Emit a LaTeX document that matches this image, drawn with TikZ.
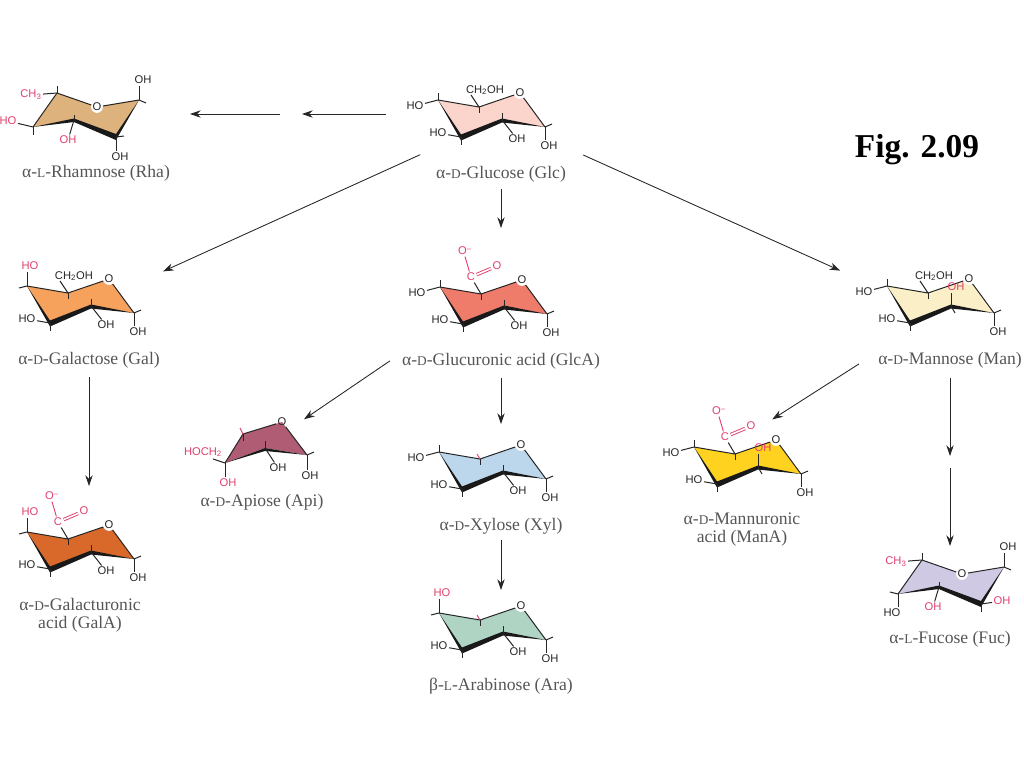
\documentclass[tikz,border=0pt]{standalone}
\usepackage{fontspec}
\setmainfont{Liberation Serif}
\setsansfont{Liberation Sans}
\usepackage{tikz}
\usetikzlibrary{arrows.meta,calc}
\definecolor{rhafill}{HTML}{DDB27C}
\definecolor{glcfill}{HTML}{FBD4CB}
\definecolor{glcafill}{HTML}{EF7B6A}
\definecolor{galfill}{HTML}{F6A25C}
\definecolor{galafill}{HTML}{D9692A}
\definecolor{manfill}{HTML}{FBEFC8}
\definecolor{manafill}{HTML}{FFD21F}
\definecolor{xylfill}{HTML}{BCD6EC}
\definecolor{arafill}{HTML}{B0D4C4}
\definecolor{fucfill}{HTML}{CFC9E4}
\definecolor{apifill}{HTML}{AF5C74}
\definecolor{sugarpink}{HTML}{E0406E}
\definecolor{capgray}{HTML}{555555}
\tikzset{
  subst/.style={font=\sffamily\fontsize{8.4}{9}\selectfont, inner sep=1pt, text=black!85},
  substred/.style={subst, text=sugarpink},
  ringox/.style={subst, circle, fill=white, inner sep=0pt},
  bondline/.style={line width=0.75pt, black!85},
  redbond/.style={line width=0.7pt, sugarpink},
  sugarcap/.style={font=\fontsize{13.2}{13.5}\selectfont, text=capgray,
    inner sep=0pt, align=center},
  hub/.style={inner sep=0pt, outer sep=0pt, minimum size=0pt},
  arr/.style={-{Stealth[length=8pt,width=5.5pt]}, line width=0.65pt, black!85},
}
\newcommand{\cfg}[1]{{\fontsize{10}{9}\selectfont #1}}
% chair ring, with the two groups every one of them carries
\newcommand{\chairring}[1]{
  \coordinate (a) at (0,0);
  \coordinate (b) at (23,37);
  \coordinate (c) at (64,20);
  \coordinate (d) at (107,27);
  \coordinate (e) at (41,7);
  \fill[#1] (a) -- (b) -- (c) -- (d) -- (82,-7) -- (e) -- cycle;
  \draw[bondline] (e) -- (a);
  \draw[bondline] (e) -- ++(0,6);
  \fill[black!90] (a) -- (23,34.5) -- (64,18.5) -- (d) -- (64,22.5) -- (23,40.5) -- cycle;
  \node[ringox] (o) at (82,-7) {O};
  \draw[bondline] (d) -- (o) -- (e);
  \node[subst] (hoB) at (0,33) {HO};
  \draw[bondline] (b) -- (hoB);
  \draw[bondline] (b) -- ++(0,8);
  \node[subst] (ohD) at (111,46) {OH};
  \draw[bondline] (d) -- (d |- ohD.north);
  \draw[bondline] (d) -- ++(7,-3);
}
% flipped chair of the two 6-deoxy sugars
\newcommand{\flipring}[1]{
  \coordinate (a) at (0,0);
  \coordinate (b) at (41,-7);
  \coordinate (c) at (83,10);
  \coordinate (d) at (106,-27);
  \coordinate (e) at (24,-34);
  \fill[#1] (a) -- (b) -- (c) -- (d) -- (64,-20) -- (e) -- cycle;
  \draw[bondline] (a) -- (e);
  \fill[black!90] (a) -- (41,-8.5) -- (83,7) -- (d) -- (83,13) -- (41,-5) -- cycle;
  \node[ringox] (o) at (64,-20) {O};
  \draw[bondline] (d) -- (o) -- (e);
  \node[substred] (ch) at (-2,-32) {CH\textsubscript{3}};
  \draw[bondline] (e) -- (ch);
  \draw[bondline] (e) -- ++(0,-7);
  \node[substred] (ohB) at (35,13) {OH};
  \draw[bondline] (b) -- (ohB);
  \draw[bondline] (b) -- ++(0,-5);
  \node[subst] (ohD) at (110,-47) {OH};
  \draw[bondline] (d) -- (d |- ohD.south);
  \draw[bondline] (d) -- ++(7,3);
}
\newcommand{\hoflat}{
  \node[subst] (hoA) at (-23,6) {HO};
  \draw[bondline] (a) -- (hoA);
  \draw[bondline] (a) -- ++(0,-7);
}
\newcommand{\hoaxial}{
  \node[substred] (hoA) at (3,-20) {HO};
  \draw[bondline] (a) -- (a |- hoA.south);
  \draw[bondline] (a) -- ++(-8,2);
}
\newcommand{\ohflat}{
  \node[subst] (ohC) at (79,39) {OH};
  \draw[bondline] (c) -- (ohC);
  \draw[bondline] (c) -- ++(0,-7);
}
\newcommand{\ohaxial}{
  \draw[bondline] (c) -- ++(0,-13);
  \draw[bondline] (c) -- ++(4,7);
  \node[substred] (ohC) at (69,1) {OH};
}
\newcommand{\hydroxymethyl}{
  \node[subst] (ch) at (47,-10) {CH\textsubscript{2}OH};
  \draw[bondline] (e) -- ++(-8,-12);
}
\newcommand{\carboxy}{
  \node[substred] (cc) at (31,-10) {C};
  \node[substred] (oDouble) at (57,-21) {O};
  \node[substred] (oMinus) at (25,-36) {O\textsuperscript{--}};
  \draw[bondline] (e) -- (cc);
  \draw[redbond] (cc) -- (oMinus.south);
  \draw[redbond, double, double distance=1.2pt] (cc) -- (oDouble);
}
\newcommand{\pinktick}{
  \draw[redbond] (e) -- ++(-3,-5);
}
\begin{document}
\begin{tikzpicture}[x=0.75pt, y=-0.75pt]
  \useasboundingbox (0,0) rectangle (1024,768);

  % Rings
  \begin{scope}[shift={(33,127)}, name prefix=rha-]
    \flipring{rhafill}
    \node[substred] (hoA) at (-25,-6) {HO};
    \draw[bondline] (a) -- (hoA);
    \draw[bondline] (a) -- ++(0,8);
    \node[subst] (ohC) at (87,30) {OH};
    \draw[bondline] (c) -- (c |- ohC.north);
    \draw[bondline] (c) -- ++(8,-1);
  \end{scope}
  \begin{scope}[shift={(898,594)}, name prefix=fuc-]
    \flipring{fucfill}
    \node[subst] (hoA) at (-6,19) {HO};
    \draw[bondline] (a) -- (a |- hoA.north);
    \draw[bondline] (a) -- ++(-8,-2);
    \node[substred] (ohC) at (104,7) {OH};
    \draw[bondline] (c) -- (ohC);
    \draw[bondline] (c) -- ++(0,8);
  \end{scope}
  \begin{scope}[shift={(438,100)}, name prefix=glc-]
    \chairring{glcfill}
    \hoflat \ohflat \hydroxymethyl
  \end{scope}
  \begin{scope}[shift={(27,286)}, name prefix=gal-]
    \chairring{galfill}
    \hoaxial \ohflat \hydroxymethyl
  \end{scope}
  \begin{scope}[shift={(440,287)}, name prefix=glca-]
    \chairring{glcafill}
    \hoflat \ohflat \carboxy
  \end{scope}
  \begin{scope}[shift={(887,286)}, name prefix=man-]
    \chairring{manfill}
    \hoflat \ohaxial \hydroxymethyl
  \end{scope}
  \begin{scope}[shift={(27,532)}, name prefix=gala-]
    \chairring{galafill}
    \hoaxial \ohflat \carboxy
  \end{scope}
  \begin{scope}[shift={(694,447)}, name prefix=mana-]
    \chairring{manafill}
    \hoflat \ohaxial \carboxy
  \end{scope}
  \begin{scope}[shift={(439,452)}, name prefix=xyl-]
    \chairring{xylfill}
    \hoflat \ohflat \pinktick
  \end{scope}
  \begin{scope}[shift={(439,613)}, name prefix=ara-]
    \chairring{arafill}
    \hoaxial \ohflat \pinktick
  \end{scope}

  % Apiose is a five-membered ring
  \begin{scope}[shift={(225,463)}, name prefix=api-]
    \coordinate (a) at (0,0);
    \coordinate (b) at (18,-29);
    \coordinate (c) at (40,-15);
    \coordinate (d) at (82,-8);
    \fill[apifill] (a) -- (b) -- (57,-41) -- (d) -- (c) -- cycle;
    \fill[black!90] (a) -- (c) -- (d) -- (40,-12) -- cycle;
    \node[ringox, fill=none] (o) at (57,-41) {O};
    \draw[bondline] (a) -- (b) -- (o) -- (d);
    \draw[redbond] (b) -- ++(-3,-6);
    \draw[bondline] (b) -- ++(0,7);
    \node[substred] (ch) at (-22,-11) {HOCH\textsubscript{2}};
    \draw[bondline] (a) -- (-12,-4);
    \node[substred] (ohA) at (3,20) {OH};
    \draw[bondline] (a) -- (a |- ohA.north);
    \node[subst] (ohC) at (53,5) {OH};
    \draw[bondline] (c) -- (ohC);
    \draw[bondline] (c) -- ++(0,-7);
    \node[subst] (ohD) at (85,13) {OH};
    \draw[bondline] (d) -- (d |- ohD.north);
    \draw[bondline] (d) -- ++(7,-3);
  \end{scope}

  % Names
  \node[sugarcap] (rhaCap) at (96,173) {α-\cfg{L}-Rhamnose (Rha)};
  \node[sugarcap] (glcCap) at (501,174) {α-\cfg{D}-Glucose (Glc)};
  \node[sugarcap] (galCap) at (89,360) {α-\cfg{D}-Galactose (Gal)};
  \node[sugarcap] (glcaCap) at (501,361) {α-\cfg{D}-Glucuronic acid (GlcA)};
  \node[sugarcap] (manCap) at (950,360) {α-\cfg{D}-Mannose (Man)};
  \node[sugarcap] (apiCap) at (262,502) {α-\cfg{D}-Apiose (Api)};
  \node[sugarcap] (xylCap) at (501,526) {α-\cfg{D}-Xylose (Xyl)};
  \node[sugarcap] (araCap) at (501,686) {β-\cfg{L}-Arabinose (Ara)};
  \node[sugarcap] (galaCap) at (80,615) {α-\cfg{D}-Galacturonic\\acid (GalA)};
  \node[sugarcap] (manaCap) at (742,530) {α-\cfg{D}-Mannuronic\\acid (ManA)};
  \node[sugarcap] (fucCap) at (950,639) {α-\cfg{L}-Fucose (Fuc)};
  \node[inner sep=0pt, font=\fontsize{25}{27}\selectfont\bfseries] (figTitle) at (917,150) {Fig. 2.09};

  % Hubs the arrows run between
  \node[hub] (glc) at (501,118) {};
  \node[hub] (rha) at (95,114) {};
  \node[hub] (gal) at (89,305) {};
  \node[hub] (glca) at (501,300) {};
  \node[hub] (man) at (950,320) {};
  \node[hub] (gala) at (89,540) {};
  \node[hub] (api) at (250,456) {};
  \node[hub] (xyl) at (501,475) {};
  \node[hub] (ara) at (501,645) {};
  \node[hub] (mana) at (740,440) {};
  \node[hub] (fuc) at (950,600) {};
  \coordinate (rhaGap) at (291,114);
  \coordinate (fucGap) at (950,462);

  % Arrows
  \draw[arr, shorten <=86.25pt, shorten >=8.25pt] (glc |- rha) -- (rhaGap);
  \draw[arr, shorten <=8.25pt, shorten >=71.25pt] (rhaGap) -- (rha);
  \draw[arr, shorten <=66.5pt, shorten >=61pt] (glc) -- (gal);
  \draw[arr, shorten <=53.25pt, shorten >=54pt] (glc) -- (glca);
  \draw[arr, shorten <=67.5pt, shorten >=90.3pt] (glc) -- (man);
  \draw[arr, shorten <=54pt, shorten >=40.5pt] (gal) -- (gala);
  \draw[arr, shorten <=10.8pt, shorten >=49pt] (glcaCap.north west) -- (api);
  \draw[arr, shorten <=58.5pt, shorten >=38.25pt] (glca) -- (xyl);
  \draw[arr, shorten <=48.75pt, shorten >=41.25pt] (xyl) -- (ara);
  \draw[arr, shorten <=16.9pt, shorten >=28.7pt] (manCap.north west) -- (mana);
  \draw[arr, shorten <=43.5pt, shorten >=4.5pt] (man) -- (fucGap);
  \draw[arr, shorten <=4.5pt, shorten >=40.5pt] (fucGap) -- (fuc);
\end{tikzpicture}
\end{document}
